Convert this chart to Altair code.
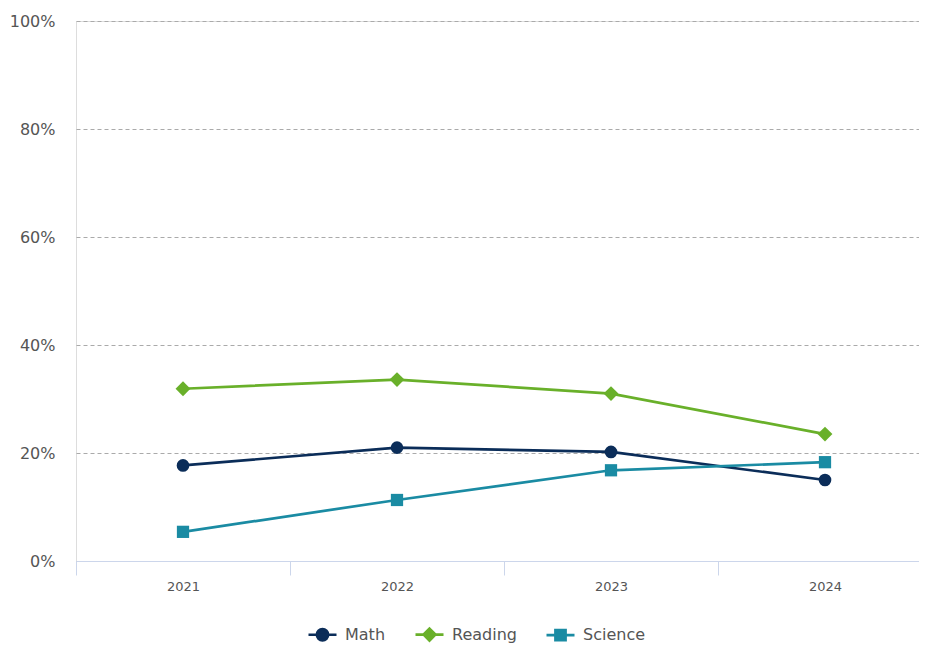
import altair as alt
import pandas as pd

years = ["2021", "2022", "2023", "2024"]
series_names = ["Math", "Reading", "Science"]
math = [17.7, 21.0, 20.2, 15.0]
reading = [31.9, 33.6, 31.0, 23.5]
science = [5.4, 11.3, 16.8, 18.3]
y_ticks = [0, 20, 40, 60, 80, 100]

colors = ["#0b2d59", "#69b02a", "#1a8ba3"]
marker_shapes = ["circle", "diamond", "square"]
marker_sizes = [160, 220, 150]
legend_paths = [
    "M-1,0H1M-0.4,0A0.4,0.4 0 1,0 0.4,0A0.4,0.4 0 1,0 -0.4,0Z",
    "M-1,0H1M0,-0.42L0.42,0L0,0.42L-0.42,0Z",
    "M-1,0H1M-0.36,-0.36H0.36V0.36H-0.36Z",
]

rows = []
for name, vals in zip(series_names, [math, reading, science]):
    for yr, v in zip(years, vals):
        rows.append({"year": yr, "series": name, "value": v})
df = pd.DataFrame(rows)

FONT = "DejaVu Sans"

legend = alt.Legend(
    title=None, orient="none", direction="horizontal", legendX=231, legendY=598,
    padding=0, labelFontSize=16, labelColor="#555", labelFont=FONT,
    symbolSize=784, symbolStrokeWidth=2.7, symbolOpacity=1,
    columnPadding=24, labelOffset=7,
)

color_scale = alt.Scale(domain=series_names, range=colors)
color = alt.Color("series:N", scale=color_scale, legend=legend)

x = alt.X(
    "year:O",
    scale=alt.Scale(type="band", range=[0, 856], paddingInner=0, paddingOuter=0),
    axis=alt.Axis(title=None, labelAngle=0, tickBand="extent", domainColor="#ccd6eb",
                  tickColor="#ccd6eb", tickSize=14, labelFontSize=13, labelColor="#555",
                  labelFont=FONT, labelPadding=5, grid=False, zindex=1),
)
y = alt.Y(
    "value:Q",
    scale=alt.Scale(domain=[0, 100], nice=False),
    axis=alt.Axis(title=None, values=y_ticks, labelExpr="datum.value + '%'", domain=False,
                  ticks=False, gridDash=[4, 3], gridColor="#aaaaaa", labelFontSize=16,
                  labelColor="#555", labelFont=FONT, labelPadding=21),
)

base = alt.Chart(df)

legend_layer = base.mark_point(filled=False, opacity=0).encode(
    x=x, y=y, color=color,
    fill=alt.Fill("series:N", scale=color_scale, legend=legend),
    shape=alt.Shape("series:N", scale=alt.Scale(domain=series_names, range=legend_paths), legend=legend),
)

lines = base.mark_line(strokeWidth=2.7).encode(x=x, y=y, color=color, detail="series:N")

layers = [legend_layer, lines]
for name, shp, sz in zip(series_names, marker_shapes, marker_sizes):
    layers.append(
        base.transform_filter(alt.datum.series == name)
        .mark_point(filled=True, shape=shp, size=sz, opacity=1)
        .encode(x=x, y=y, color=color)
    )

chart = alt.layer(*layers).properties(
    width=843, height=540,
    autosize=alt.AutoSizeParams(type="none"),
    padding={"left": 68, "top": 13, "right": 0, "bottom": 85},
).configure_view(stroke=None).configure(font=FONT)

chart.save("out.html", embed_options={"renderer": "svg", "actions": False})
